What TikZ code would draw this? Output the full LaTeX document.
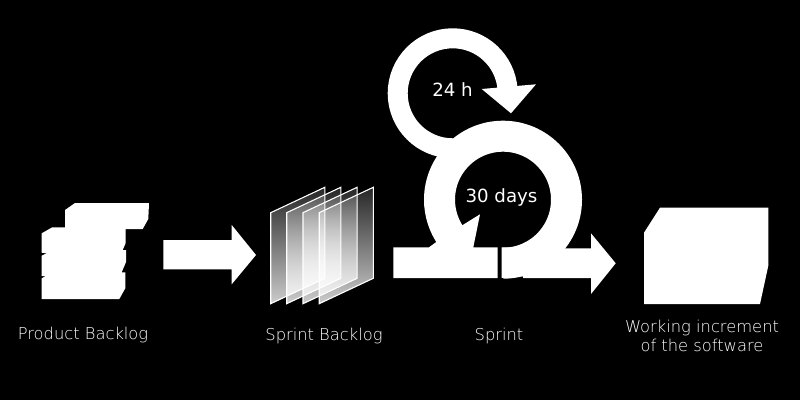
\documentclass[tikz,border=0pt]{standalone}
\usepackage{fontspec}
\usepackage{tikz}
\usetikzlibrary{fadings}
\newfontfamily\thinfont{DejaVu Sans ExtraLight}
\newfontfamily\bookfont{DejaVu Sans}
\tikzset{capt/.style = {white, align=center, font=\thinfont\fontsize{16.3}{19.5}\selectfont}}
\tikzset{looptext/.style = {white, font=\bookfont\fontsize{18.2}{20}\selectfont}}
\tikzset{solid white/.style = {fill=white, draw=none}}
\tikzfading[name=panefade, top color=transparent!85, bottom color=transparent!20]

\begin{document}
\begin{tikzpicture}[x=1pt, y=1pt]
    \fill [black] (0, 0) rectangle (800, 400);

    % product backlog
    \path [solid white] (65, 190) -- (75, 197) -- (149, 197) -- (148.3, 181) -- (142.7, 171)
      -- (125.7, 171) -- (125.7, 157) -- (122.7, 150) -- (126, 150) -- (126, 138)
      -- (121.7, 127.7) -- (125.3, 127.7) -- (125.3, 111.7) -- (119.3, 101) -- (41.7, 101)
      -- (41.7, 121.7) -- (46, 124) -- (41.7, 124) -- (41.7, 144.3) -- (46.7, 146.7)
      -- (41.7, 147.3) -- (41.7, 166.7) -- (52.3, 172.7) -- (65, 172.7) -- cycle;
    \path [solid white] (163.3, 160) -- (231.7, 160) -- (231.7, 175) -- (256, 145)
      -- (231.7, 115.7) -- (231.7, 130.7) -- (163.3, 130.7) -- cycle;

    % sprint backlog
    \foreach \x in {0, 16, 32.3, 48.5} {
      \fill [white, path fading=panefade] (270.7 + \x, 187.3) -- (324.8 + \x, 212.7)
        -- (324.8 + \x, 121.7) -- (270.7 + \x, 96.3) -- cycle;
      \draw [white, line width=1.1] (270.7 + \x, 187.3) -- (324.8 + \x, 212.7)
        -- (324.8 + \x, 121.7) -- (270.7 + \x, 96.3) -- cycle;
    }

    % daily loop
    \draw [white, line width=20] (452.7, 251.7) arc [start angle=270, end angle=4, radius=55];
    \path [solid white] (481.7, 311) -- (536, 315.7) -- (511, 286.7) -- cycle;

    % sprint loop
    \draw [white, line width=31] (503, 136.8) arc [start angle=270, end angle=576, radius=63.5];
    \path [solid white] (436.7, 158.3) -- (429, 152.7) -- (393.3, 152.7) -- (393.3, 122)
      -- (497.7, 122) -- (497.7, 152.7) -- (473.3, 152.7) -- (480, 185.7) -- (462.7, 175) -- cycle;
    \path [solid white] (501.7, 152.7) -- (566, 151.7) -- (591, 151.7) -- (591, 166.7) -- (615.7, 136.7)
      -- (591, 106) -- (591, 122) -- (523.3, 122) -- (522.7, 124) -- (501.7, 122) -- cycle;

    % increment
    \path [solid white] (660, 192.3) -- (768.3, 192.3) -- (768.3, 134.3) -- (760, 96)
      -- (644, 96) -- (644, 167.3) -- cycle;

    \node [looptext] (day) at (452.5, 310.5) {24 h};
    \node [looptext] (days) at (501.5, 202.5) {30 days};
    \node [capt] (product) at (83, 65.5) {Product Backlog};
    \node [capt] (backlog) at (324, 64.5) {Sprint Backlog};
    \node [capt] (sprint) at (499, 64.5) {Sprint};
    \node [capt] (working) at (702, 64) {Working increment\\of the software};
\end{tikzpicture}
\end{document}
